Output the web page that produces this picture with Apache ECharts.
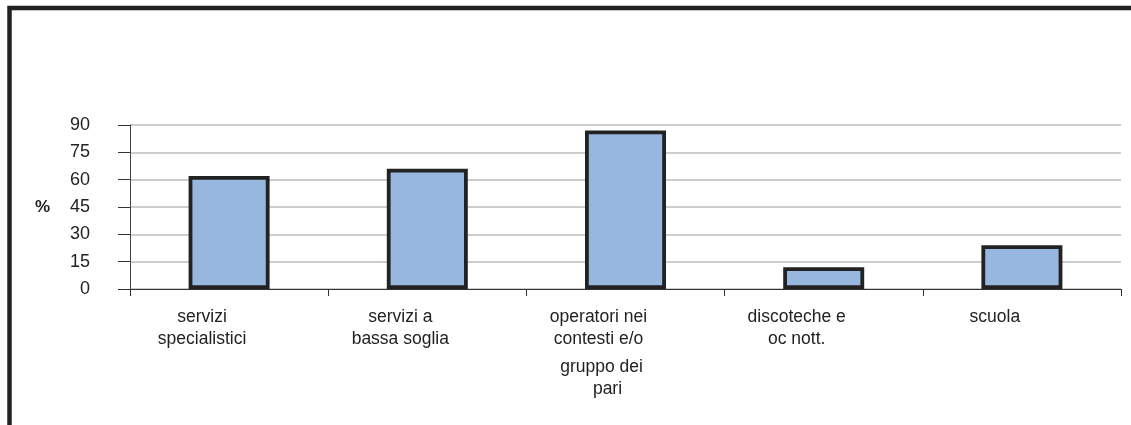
<!DOCTYPE html>
<html>
<head>
<meta charset="utf-8">
<script src="https://cdn.jsdelivr.net/npm/echarts@6/dist/echarts.min.js"></script>
<style>
html,body{margin:0;padding:0;background:#fff;}
#chart{width:1131px;height:425px;}
</style>
</head>
<body>
<div id="chart"></div>
<script>
const categories = [
  "servizi\nspecialistici",
  "servizi a\nbassa soglia",
  "operatori nei\ncontesti e/o\ngruppo dei\npari",
  "discoteche e\noc nott.",
  "scuola"
];
const values = [62, 66, 87, 12, 24];
const yTicks = [0, 15, 30, 45, 60, 75, 90];
const yName = "%";

const chart = echarts.init(document.getElementById('chart'), null, {renderer: 'canvas'});

const FONT = 'Liberation Sans, Arial, sans-serif';

function fmtCat(v) {
  const lines = v.split('\n');
  return lines.map((l, i) => {
    if (i === 2) return '{g|' + l + '}';
    if (i === 3) return '{p|' + l + '}';
    return '{n|' + l + '}';
  }).join('\n');
}

chart.setOption({
  backgroundColor: '#ffffff',
  animation: false,
  graphic: [{
    type: 'rect',
    shape: {x: 9.5, y: 8, width: 1400, height: 800},
    style: {fill: 'none', stroke: '#222222', lineWidth: 4.5},
    silent: true
  }],
  grid: {left: 130, right: 10, top: 125, bottom: 136, containLabel: false},
  xAxis: {
    type: 'category',
    data: categories,
    boundaryGap: true,
    axisLine: {show: true, lineStyle: {color: '#333333', width: 1.2}},
    axisTick: {show: true, length: 7, inside: false, alignWithLabel: false, lineStyle: {color: '#333333'}},
    axisLabel: {
      interval: 0,
      margin: 17,
      color: '#222222',
      fontFamily: FONT,
      fontSize: 17.5,
      lineHeight: 22,
      padding: [0, 54, 0, 0],
      formatter: fmtCat,
      rich: {
        n: {fontSize: 17.5, lineHeight: 22, color: '#222222', fontFamily: FONT},
        g: {fontSize: 17.5, lineHeight: 28, color: '#222222', fontFamily: FONT, padding: [6, 0, 0, 6]},
        p: {fontSize: 17.5, lineHeight: 22, color: '#222222', fontFamily: FONT, padding: [0, 0, 0, 18]}
      }
    },
    splitLine: {show: false}
  },
  yAxis: {
    type: 'value',
    min: yTicks[0],
    max: yTicks[yTicks.length - 1],
    interval: yTicks[1] - yTicks[0],
    name: yName,
    nameLocation: 'middle',
    nameRotate: 0,
    nameGap: 80,
    nameTextStyle: {fontFamily: FONT, fontSize: 17, fontWeight: 'bold', color: '#222222'},
    axisLine: {show: true, lineStyle: {color: '#444444', width: 1}},
    axisTick: {show: true, length: 12, inside: false, lineStyle: {color: '#333333'}},
    axisLabel: {
      margin: 40,
      color: '#222222',
      fontFamily: FONT,
      fontSize: 18
    },
    splitLine: {show: true, lineStyle: {color: '#bdbdbd', width: 1.5}}
  },
  series: [{
    type: 'bar',
    data: values,
    barWidth: 81,
    itemStyle: {color: '#97b7df', borderColor: '#222222', borderWidth: 3.8},
    label: {show: false}
  }]
});
</script>
</body>
</html>
